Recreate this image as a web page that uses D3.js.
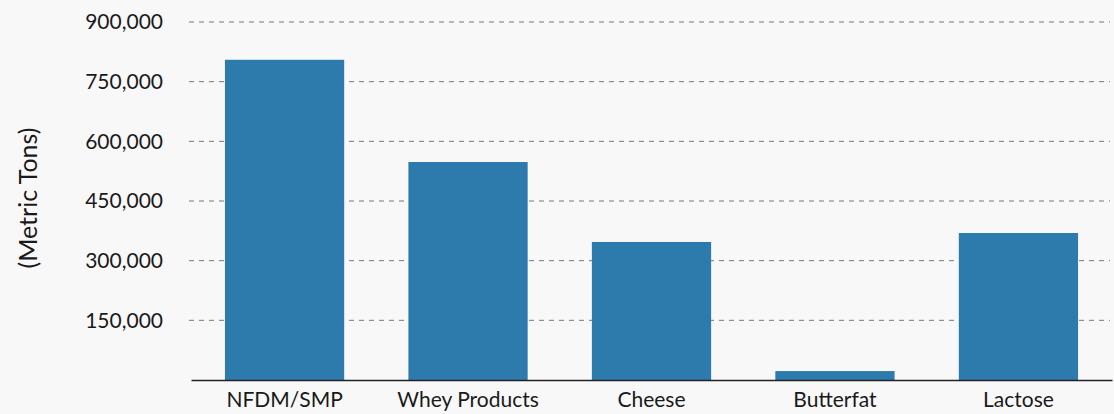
<!DOCTYPE html>
<html>
<head>
<meta charset="utf-8">
<script src="https://cdn.jsdelivr.net/npm/d3@7"></script>
<style>
  body { margin: 0; background: #f9f8f9; }
  text { font-family: Lato, "Open Sans", sans-serif; fill: #1a1a1a; }
</style>
</head>
<body>
<div id="chart"></div>
<script>
// data
let categories = ["NFDM/SMP", "Whey Products", "Cheese", "Butterfat", "Lactose"];
let tons = [805000, 548000, 347000, 22500, 369500];
let yTicks = [150000, 300000, 450000, 600000, 750000, 900000];

let svgWidth = 1114;
let svgHeight = 414;

let margin = { top: 22, right: 4, bottom: 34, left: 189 };
let width = svgWidth - margin.left - margin.right;
let height = svgHeight - margin.top - margin.bottom;

let svg = d3.select("#chart")
  .append("svg")
  .attr("width", svgWidth)
  .attr("height", svgHeight);

let chartGroup = svg.append("g")
  .attr("transform", `translate(${margin.left}, ${margin.top})`);

let xScale = d3.scaleBand()
  .domain(categories)
  .range([2, width + 2])
  .paddingInner(0.35)
  .paddingOuter(0.185);

let yScale = d3.scaleLinear()
  .domain([0, 900000])
  .range([height, 0]);

// dashed grid lines
chartGroup.selectAll(".grid")
  .data(yTicks)
  .enter()
  .append("line")
  .attr("x1", 0)
  .attr("x2", width)
  .attr("y1", d => yScale(d))
  .attr("y2", d => yScale(d))
  .attr("stroke", "#777")
  .attr("stroke-width", 1)
  .attr("stroke-dasharray", "5,5");

// y labels
let leftAxis = d3.axisLeft(yScale)
  .tickValues(yTicks)
  .tickFormat(d3.format(","))
  .tickSize(0)
  .tickPadding(26);

let yAxisGroup = chartGroup.append("g").call(leftAxis);
yAxisGroup.select(".domain").remove();
yAxisGroup.selectAll("text")
  .style("font-size", "21px")
  .attr("fill", "#1a1a1a");

// bars
chartGroup.selectAll("rect")
  .data(categories)
  .enter()
  .append("rect")
  .attr("x", d => xScale(d))
  .attr("width", xScale.bandwidth())
  .attr("y", (d, i) => yScale(tons[i]))
  .attr("height", (d, i) => height - yScale(tons[i]))
  .attr("fill", "#2d7bac");

// baseline + category labels
let bottomAxis = d3.axisBottom(xScale)
  .tickSize(0)
  .tickPadding(12);

let xAxisGroup = chartGroup.append("g")
  .attr("transform", `translate(0, ${height})`)
  .call(bottomAxis);
xAxisGroup.select(".domain")
  .attr("stroke", "#222")
  .attr("stroke-width", 1.5);
xAxisGroup.selectAll("text")
  .style("font-size", "21px")
  .attr("fill", "#1a1a1a");

// y axis title
svg.append("text")
  .attr("transform", "rotate(-90)")
  .attr("x", -198)
  .attr("y", 37)
  .style("text-anchor", "middle")
  .style("font-size", "25px")
  .text("(Metric Tons)");
</script>
</body>
</html>
